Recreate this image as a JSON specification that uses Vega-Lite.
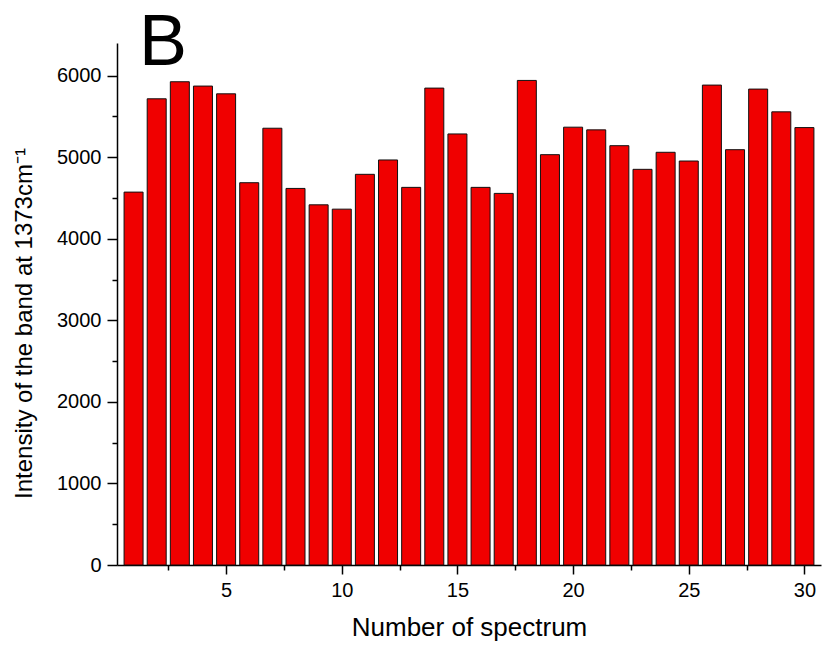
{
  "$schema": "https://vega.github.io/schema/vega-lite/v6.json",
  "width": 704,
  "height": 522,
  "autosize": {"type": "none"},
  "padding": {"left": 117, "top": 43, "right": 4, "bottom": 83},
  "background": "white",
  "config": {
    "view": {"stroke": null},
    "font": "Liberation Sans",
    "axis": {"grid": false, "domainColor": "black", "domainWidth": 1.5, "tickColor": "black", "tickWidth": 1.5, "labelColor": "black", "titleColor": "black", "labelFont": "Liberation Sans", "titleFont": "Liberation Sans", "labelFontSize": 20, "titleFontWeight": "normal"}
  },
  "title": {"text": "B", "anchor": "start", "frame": "group", "fontSize": 72, "fontWeight": "normal", "font": "Liberation Sans", "color": "black", "dx": 22, "baseline": "alphabetic", "offset": -94},
  "data": {
    "values": [
      {"n": 1, "v": 4572}, {"n": 2, "v": 5716}, {"n": 3, "v": 5925}, {"n": 4, "v": 5872}, {"n": 5, "v": 5777},
      {"n": 6, "v": 4687}, {"n": 7, "v": 5355}, {"n": 8, "v": 4617}, {"n": 9, "v": 4416}, {"n": 10, "v": 4363},
      {"n": 11, "v": 4790}, {"n": 12, "v": 4966}, {"n": 13, "v": 4630}, {"n": 14, "v": 5847}, {"n": 15, "v": 5285},
      {"n": 16, "v": 4630}, {"n": 17, "v": 4556}, {"n": 18, "v": 5941}, {"n": 19, "v": 5031}, {"n": 20, "v": 5368},
      {"n": 21, "v": 5335}, {"n": 22, "v": 5141}, {"n": 23, "v": 4851}, {"n": 24, "v": 5060}, {"n": 25, "v": 4953},
      {"n": 26, "v": 5884}, {"n": 27, "v": 5092}, {"n": 28, "v": 5835}, {"n": 29, "v": 5556}, {"n": 30, "v": 5363}
    ]
  },
  "mark": {"type": "bar", "width": 19, "color": "#f00000", "stroke": "#111111", "strokeWidth": 1},
  "encoding": {
    "x": {
      "field": "n", "type": "quantitative",
      "scale": {"domain": [0.5, 30.5], "nice": false, "zero": false},
      "axis": {
        "title": "Number of spectrum",
        "titleFontSize": 26,
        "values": [2.5, 5, 7.5, 10, 12.5, 15, 17.5, 20, 22.5, 25, 27.5, 30],
        "labelExpr": "datum.value % 5 === 0 ? datum.label : ''",
        "tickSize": {"condition": {"test": "datum.value % 5 === 0", "value": 9}, "value": 5},
        "labelPadding": 6,
        "titlePadding": 14,
        "labelFlush": false
      }
    },
    "y": {
      "field": "v", "type": "quantitative",
      "scale": {"domain": [0, 6400], "nice": false},
      "axis": {
        "title": "Intensity of the band at 1373cm⁻¹",
        "titleFontSize": 24,
        "titleY": 280,
        "values": [0, 500, 1000, 1500, 2000, 2500, 3000, 3500, 4000, 4500, 5000, 5500, 6000],
        "labelExpr": "datum.value % 1000 === 0 ? datum.label : ''",
        "format": "d",
        "tickSize": {"condition": {"test": "datum.value % 1000 === 0", "value": 10}, "value": 5},
        "labelPadding": 6,
        "titlePadding": 20
      }
    }
  }
}
